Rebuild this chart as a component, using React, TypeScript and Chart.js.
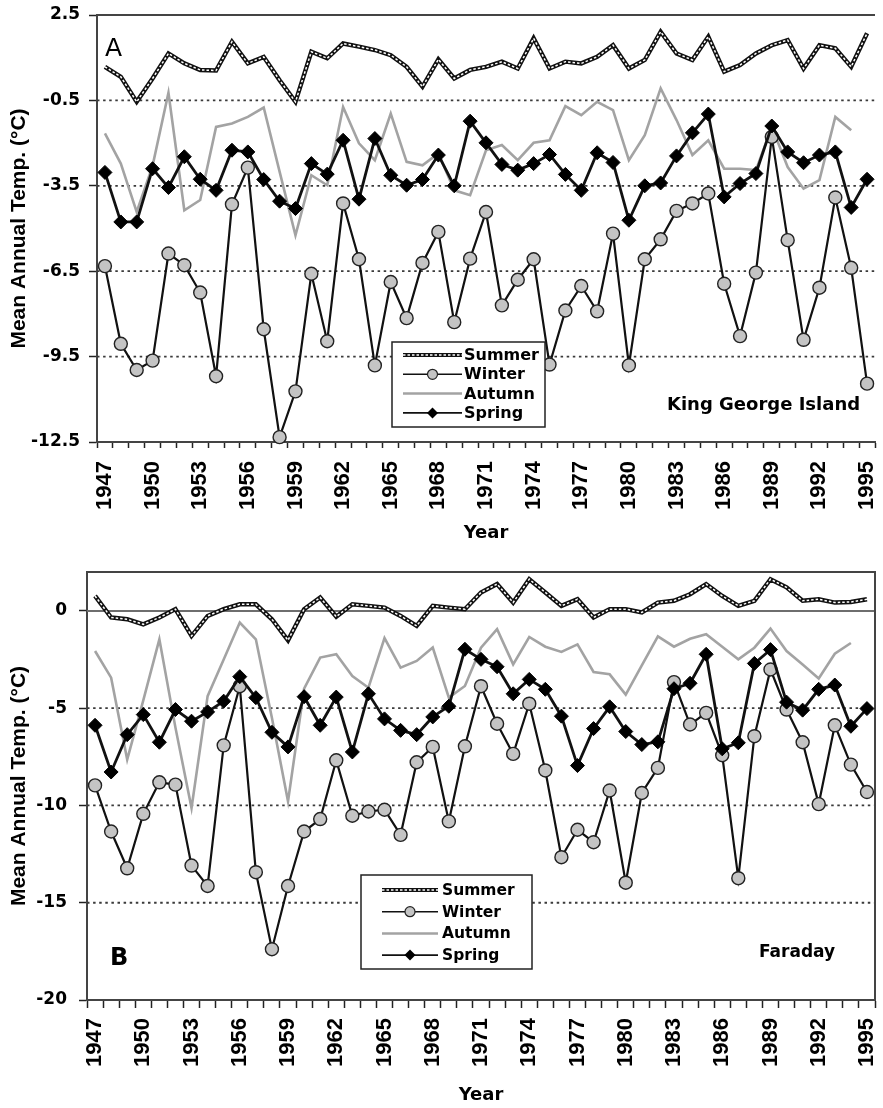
import React, { useEffect, useRef } from 'react';
import { Chart, registerables } from 'chart.js';

Chart.register(...registerables);

// ---------- categories ----------
const YEARS = [
  '1947', '1948', '1949', '1950', '1951', '1952', '1953', '1954', '1955', '1956',
  '1957', '1958', '1959', '1960', '1961', '1962', '1963', '1964', '1965', '1966',
  '1967', '1968', '1969', '1970', '1971', '1972', '1973', '1974', '1975', '1976',
  '1977', '1978', '1979', '1980', '1981', '1982', '1983', '1984', '1985', '1986',
  '1987', '1988', '1989', '1990', '1991', '1992', '1993', '1994', '1995',
];

// ---------- Panel A: King George Island ----------
const KGI_SUMMER = [
  0.68, 0.33, -0.55, 0.27, 1.15, 0.80, 0.57, 0.55, 1.56, 0.80,
  1.03, 0.21, -0.55, 1.21, 0.98, 1.50, 1.39, 1.27, 1.09, 0.68,
  -0.02, 0.94, 0.27, 0.57, 0.68, 0.86, 0.62, 1.68, 0.62, 0.86,
  0.80, 1.03, 1.44, 0.62, 0.92, 1.91, 1.15, 0.92, 1.74, 0.51,
  0.74, 1.15, 1.44, 1.62, 0.62, 1.44, 1.33, 0.68, 1.86,
];
const KGI_WINTER = [
  -6.32, -9.05, -9.97, -9.64, -5.88, -6.29, -7.25, -10.19, -4.15, -2.86,
  -8.54, -12.33, -10.72, -6.59, -8.96, -4.12, -6.08, -9.81, -6.88, -8.15,
  -6.21, -5.12, -8.29, -6.06, -4.42, -7.70, -6.80, -6.08, -9.78, -7.88,
  -7.02, -7.91, -5.18, -9.81, -6.08, -5.38, -4.38, -4.12, -3.77, -6.94,
  -8.78, -6.55, -1.78, -5.41, -8.91, -7.08, -3.91, -6.38, -10.45,
];
const KGI_AUTUMN = [
  -1.66, -2.72, -4.42, -2.80, -0.23, -4.36, -4.00, -1.43, -1.31, -1.08,
  -0.75, -3.00, -5.24, -3.13, -3.48, -0.73, -2.01, -2.60, -0.96, -2.66,
  -2.78, -2.36, -3.66, -3.83, -2.25, -2.07, -2.60, -1.99, -1.90, -0.70,
  -1.02, -0.55, -0.84, -2.60, -1.72, -0.08, -1.19, -2.42, -1.90, -2.90,
  -2.90, -2.95, -1.43, -2.84, -3.60, -3.30, -1.08, -1.55, null,
];
const KGI_SPRING = [
  -3.03, -4.77, -4.77, -2.90, -3.56, -2.48, -3.27, -3.66, -2.25, -2.31,
  -3.28, -4.04, -4.30, -2.72, -3.09, -1.90, -3.97, -1.84, -3.13, -3.48,
  -3.28, -2.42, -3.50, -1.23, -1.99, -2.75, -2.95, -2.72, -2.40, -3.10,
  -3.66, -2.34, -2.68, -4.71, -3.50, -3.40, -2.45, -1.64, -0.98, -3.89,
  -3.42, -3.07, -1.40, -2.31, -2.69, -2.42, -2.31, -4.26, -3.27,
];
const KGI_Y_TICKS = [-12.5, -9.5, -6.5, -3.5, -0.5, 2.5];
const KGI_DOTTED = [-9.5, -6.5, -3.5, -0.5];

// ---------- Panel B: Faraday ----------
const FAR_SUMMER = [
  0.77, -0.34, -0.43, -0.69, -0.34, 0.09, -1.29, -0.26, 0.09, 0.34,
  0.34, -0.43, -1.51, 0.09, 0.69, -0.30, 0.34, 0.26, 0.17, -0.26,
  -0.77, 0.26, 0.17, 0.09, 0.95, 1.38, 0.43, 1.63, 0.95, 0.26,
  0.60, -0.34, 0.09, 0.09, -0.08, 0.43, 0.52, 0.86, 1.38, 0.77,
  0.26, 0.52, 1.63, 1.21, 0.52, 0.60, 0.43, 0.46, 0.60,
];
const FAR_WINTER = [
  -8.97, -11.34, -13.23, -10.43, -8.81, -8.93, -13.09, -14.14, -6.91, -3.87,
  -13.43, -17.39, -14.14, -11.34, -10.70, -7.68, -10.53, -10.31, -10.22, -11.51,
  -7.78, -6.99, -10.82, -6.96, -3.87, -5.80, -7.35, -4.77, -8.20, -12.66,
  -11.25, -11.89, -9.23, -13.97, -9.36, -8.07, -3.66, -5.84, -5.24, -7.42,
  -13.74, -6.44, -3.01, -5.07, -6.75, -9.93, -5.88, -7.90, -9.31,
];
const FAR_AUTUMN = [
  -2.06, -3.43, -7.64, -4.60, -1.46, -6.00, -10.13, -4.38, -2.50, -0.60,
  -1.46, -5.50, -9.79, -4.00, -2.40, -2.23, -3.35, -3.95, -1.40, -2.92,
  -2.57, -1.88, -4.46, -3.86, -1.89, -0.94, -2.75, -1.34, -1.84, -2.11,
  -1.72, -3.14, -3.26, -4.30, -2.80, -1.31, -1.84, -1.43, -1.20, -1.84,
  -2.49, -1.89, -0.91, -2.06, -2.75, -3.47, -2.20, -1.65, null,
];
const FAR_SPRING = [
  -5.88, -8.28, -6.36, -5.33, -6.75, -5.07, -5.67, -5.19, -4.64, -3.38,
  -4.46, -6.24, -6.99, -4.41, -5.88, -4.43, -7.25, -4.26, -5.55, -6.14,
  -6.36, -5.45, -4.90, -1.97, -2.49, -2.87, -4.26, -3.52, -4.03, -5.41,
  -7.95, -6.05, -4.93, -6.20, -6.87, -6.73, -4.00, -3.72, -2.23, -7.09,
  -6.78, -2.70, -1.99, -4.69, -5.10, -4.03, -3.81, -5.93, -5.02,
];
const FAR_Y_TICKS = [-20, -15, -10, -5, 0];
const FAR_DOTTED = [-15, -10, -5];
const FAR_SOLID = [0];

const SERIES_NAMES = ['Summer', 'Winter', 'Autumn', 'Spring'];

const H_FONT = "'DejaVu Sans', sans-serif";
const V_FONT = "'Liberation Sans', Arial, sans-serif";

const AXIS_COLOR = '#444';

type Spec = {
  top: number; height: number;
  padTop: number; padRight: number; yWidth: number; xHeight: number;
  yMin: number; yMax: number; yTicks: number[]; yFmt: (v: number) => string;
  dotted: number[]; solid: number[]; rightBorder: boolean;
  summer: (number | null)[]; winter: (number | null)[]; autumn: (number | null)[]; spring: (number | null)[];
  yTickPad: number; xTickLen: number; xTickPad: number; xTitlePad: number;
  legend: { x: number; y: number; w: number; h: number; y0: number; dy: number; lx1: number; lx2: number; tx: number; size: number };
  labels: { text: string; x: number; y: number; font: string }[];
};

const SPEC_A: Spec = {
  top: 0, height: 555,
  padTop: 15, padRight: 0, yWidth: 97, xHeight: 113,
  yMin: -12.5, yMax: 2.5, yTicks: KGI_Y_TICKS, yFmt: (v) => v.toFixed(1),
  dotted: KGI_DOTTED, solid: [], rightBorder: false,
  summer: KGI_SUMMER, winter: KGI_WINTER, autumn: KGI_AUTUMN, spring: KGI_SPRING,
  yTickPad: 9, xTickLen: 6, xTickPad: 13, xTitlePad: 11,
  legend: { x: 392, y: 342, w: 153, h: 85, y0: 355, dy: 19.3, lx1: 403, lx2: 462, tx: 464, size: 16 },
  labels: [
    { text: 'A', x: 105, y: 56, font: `25px ${H_FONT}` },
    { text: 'King George Island', x: 667, y: 410, font: `bold 18px ${H_FONT}` },
  ],
};

const SPEC_B: Spec = {
  top: 555, height: 553,
  padTop: 17, padRight: 1, yWidth: 87, xHeight: 108,
  yMin: -20, yMax: 2, yTicks: FAR_Y_TICKS, yFmt: (v) => String(v),
  dotted: FAR_DOTTED, solid: FAR_SOLID, rightBorder: true,
  summer: FAR_SUMMER, winter: FAR_WINTER, autumn: FAR_AUTUMN, spring: FAR_SPRING,
  yTickPad: 12, xTickLen: 8, xTickPad: 10, xTitlePad: 2,
  legend: { x: 361, y: 320, w: 171, h: 94, y0: 335, dy: 21.7, lx1: 382, lx2: 438, tx: 442, size: 15.5 },
  labels: [
    { text: 'B', x: 110, y: 410, font: `bold 24px ${H_FONT}` },
    { text: 'Faraday', x: 759, y: 402, font: `bold 17px ${H_FONT}` },
  ],
};

const gridPlugin = {
  id: 'refGrid',
  beforeDatasetsDraw(chart: any, _args: any, opts: any) {
    const { ctx, chartArea: a } = chart;
    const y = chart.scales.y;
    ctx.save();
    ctx.lineCap = 'butt';
    ctx.strokeStyle = '#3a3a3a';
    ctx.lineWidth = 1.8;
    ctx.setLineDash([2.5, 3.6]);
    for (const v of opts.dotted || []) {
      const py = y.getPixelForValue(v);
      ctx.beginPath();
      ctx.moveTo(a.left, py);
      ctx.lineTo(a.right, py);
      ctx.stroke();
    }
    ctx.setLineDash([]);
    ctx.strokeStyle = '#6e6e6e';
    ctx.lineWidth = 2;
    for (const v of opts.solid || []) {
      const py = y.getPixelForValue(v);
      ctx.beginPath();
      ctx.moveTo(a.left, py);
      ctx.lineTo(a.right, py);
      ctx.stroke();
    }
    ctx.strokeStyle = AXIS_COLOR;
    ctx.lineWidth = 2;
    ctx.beginPath();
    ctx.moveTo(a.left, a.top);
    ctx.lineTo(a.right, a.top);
    if (opts.rightBorder) ctx.lineTo(a.right, a.bottom);
    ctx.stroke();
    ctx.restore();
  },
};

function drawSummerSample(ctx: CanvasRenderingContext2D, x1: number, x2: number, y: number) {
  ctx.save();
  ctx.strokeStyle = '#111';
  ctx.lineWidth = 4.2;
  ctx.beginPath(); ctx.moveTo(x1, y); ctx.lineTo(x2, y); ctx.stroke();
  ctx.strokeStyle = '#fff';
  ctx.lineWidth = 1.5;
  ctx.setLineDash([2.5, 2]);
  ctx.beginPath(); ctx.moveTo(x1, y); ctx.lineTo(x2, y); ctx.stroke();
  ctx.restore();
}

const legendPlugin = {
  id: 'refLegend',
  afterDraw(chart: any, _args: any, opts: any) {
    const ctx: CanvasRenderingContext2D = chart.ctx;
    const L = opts.legend;
    ctx.save();
    ctx.fillStyle = '#fff';
    ctx.fillRect(L.x, L.y, L.w, L.h);
    ctx.strokeStyle = '#222';
    ctx.lineWidth = 1.5;
    ctx.strokeRect(L.x, L.y, L.w, L.h);
    const mid = (L.lx1 + L.lx2) / 2;
    SERIES_NAMES.forEach((name, i) => {
      const y = L.y0 + i * L.dy;
      if (name === 'Summer') {
        drawSummerSample(ctx, L.lx1, L.lx2, y);
      } else if (name === 'Winter') {
        ctx.strokeStyle = '#111'; ctx.lineWidth = 1.6;
        ctx.beginPath(); ctx.moveTo(L.lx1, y); ctx.lineTo(L.lx2, y); ctx.stroke();
        ctx.fillStyle = '#c4c4c4'; ctx.strokeStyle = '#222'; ctx.lineWidth = 1.2;
        ctx.beginPath(); ctx.arc(mid, y, 5, 0, Math.PI * 2); ctx.fill(); ctx.stroke();
      } else if (name === 'Autumn') {
        ctx.strokeStyle = '#a3a3a3'; ctx.lineWidth = 2.5;
        ctx.beginPath(); ctx.moveTo(L.lx1, y); ctx.lineTo(L.lx2, y); ctx.stroke();
      } else {
        ctx.strokeStyle = '#111'; ctx.lineWidth = 1.6;
        ctx.beginPath(); ctx.moveTo(L.lx1, y); ctx.lineTo(L.lx2, y); ctx.stroke();
        ctx.fillStyle = '#000';
        ctx.beginPath();
        ctx.moveTo(mid, y - 5.5); ctx.lineTo(mid + 5.5, y); ctx.lineTo(mid, y + 5.5); ctx.lineTo(mid - 5.5, y);
        ctx.closePath(); ctx.fill();
      }
      ctx.fillStyle = '#000';
      ctx.font = `bold ${L.size}px ${H_FONT}`;
      ctx.textAlign = 'left';
      ctx.textBaseline = 'middle';
      ctx.fillText(name, L.tx, y + 1);
    });
    for (const t of opts.labels) {
      ctx.font = t.font;
      ctx.fillStyle = '#000';
      ctx.textAlign = 'left';
      ctx.textBaseline = 'alphabetic';
      ctx.fillText(t.text, t.x, t.y);
    }
    ctx.restore();
  },
};

function buildChart(canvas: HTMLCanvasElement, spec: Spec) {
  return new Chart(canvas, {
    type: 'line',
    data: {
      labels: YEARS,
      datasets: [
        { label: 'Summer', data: spec.summer, borderColor: '#ffffff', borderWidth: 1.5, borderDash: [2.5, 2], pointRadius: 0, tension: 0, order: 0, clip: false } as any,
        { label: 'Summer base', data: spec.summer, borderColor: '#111111', borderWidth: 4.4, pointRadius: 0, tension: 0, order: 1, clip: false },
        { label: 'Spring', data: spec.spring, borderColor: '#111111', borderWidth: 2.8, pointStyle: 'rectRot', pointRadius: 7, pointBackgroundColor: '#000', pointBorderColor: '#000', pointBorderWidth: 1, tension: 0, order: 2, clip: false },
        { label: 'Winter', data: spec.winter, borderColor: '#111111', borderWidth: 2.2, pointStyle: 'circle', pointRadius: 6.5, pointBackgroundColor: '#c4c4c4', pointBorderColor: '#222', pointBorderWidth: 1.4, tension: 0, order: 3, clip: false },
        { label: 'Autumn', data: spec.autumn, borderColor: '#a3a3a3', borderWidth: 2.6, pointRadius: 0, tension: 0, order: 4, clip: false },
      ],
    },
    options: {
      responsive: false,
      animation: false,
      events: [],
      devicePixelRatio: 1,
      layout: { padding: { top: spec.padTop, right: spec.padRight, left: 0, bottom: 0 } },
      plugins: {
        legend: { display: false },
        tooltip: { enabled: false },
        refGrid: { dotted: spec.dotted, solid: spec.solid, rightBorder: spec.rightBorder },
        refLegend: { legend: spec.legend, labels: spec.labels },
      } as any,
      scales: {
        x: {
          type: 'category',
          offset: true,
          grid: { offset: true, drawOnChartArea: false, drawTicks: true, tickLength: spec.xTickLen, tickColor: '#222', tickWidth: 1.5 },
          border: { display: true, color: AXIS_COLOR, width: 2 },
          ticks: {
            autoSkip: false, minRotation: 90, maxRotation: 90, padding: spec.xTickPad, color: '#000',
            font: { family: V_FONT, weight: 'bold', size: 22 },
            callback: (_v: any, i: number) => (i % 3 === 0 ? YEARS[i] : ''),
          },
          title: { display: true, text: 'Year', color: '#000', font: { family: H_FONT, weight: 'bold', size: 18 }, padding: { top: 0, bottom: spec.xTitlePad } },
          afterFit: (s: any) => { s.height = spec.xHeight; s.paddingLeft = 0; s.paddingRight = 0; },
        },
        y: {
          type: 'linear',
          min: spec.yMin,
          max: spec.yMax,
          afterBuildTicks: (s: any) => { s.ticks = spec.yTicks.map((v) => ({ value: v })); },
          grid: { drawOnChartArea: false, drawTicks: true, tickLength: 8, tickColor: '#222', tickWidth: 1.5 },
          border: { display: true, color: AXIS_COLOR, width: 2 },
          ticks: {
            padding: spec.yTickPad, color: '#000',
            font: { family: H_FONT, weight: 'bold', size: 17 },
            callback: (v: any) => spec.yFmt(Number(v)),
          },
          title: { display: true, text: 'Mean Annual Temp. (°C)', color: '#000', font: { family: V_FONT, weight: 'bold', size: 21 }, padding: { top: 7, bottom: 0 } },
          afterFit: (s: any) => { s.width = spec.yWidth; s.paddingTop = 0; s.paddingBottom = 0; },
        },
      } as any,
    },
    plugins: [gridPlugin, legendPlugin],
  } as any);
}

function Panel({ spec }: { spec: Spec }) {
  const ref = useRef<HTMLCanvasElement>(null);
  useEffect(() => {
    const chart = buildChart(ref.current as HTMLCanvasElement, spec);
    return () => chart.destroy();
  }, [spec]);
  return (
    <canvas
      ref={ref}
      width={883}
      height={spec.height}
      style={{ position: 'absolute', left: 0, top: spec.top, width: 883, height: spec.height, display: 'block' }}
    />
  );
}

export default function App() {
  return (
    <div style={{ position: 'absolute', left: 0, top: 0, width: 883, height: 1108, background: '#fff', overflow: 'hidden' }}>
      <Panel spec={SPEC_A} />
      <Panel spec={SPEC_B} />
    </div>
  );
}
